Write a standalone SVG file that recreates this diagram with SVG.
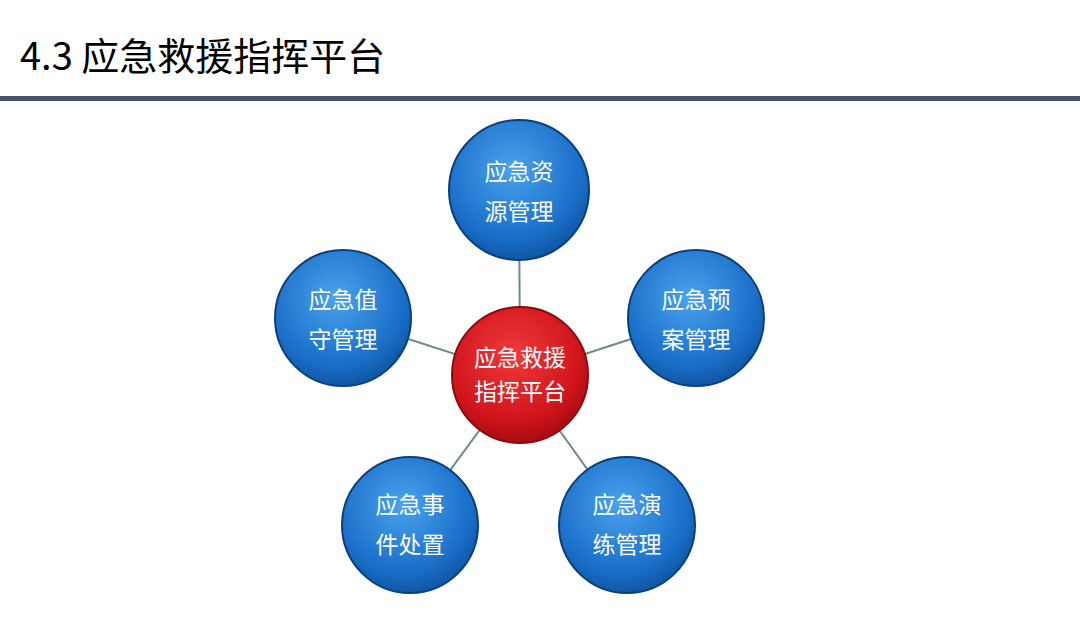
<svg xmlns="http://www.w3.org/2000/svg" width="1080" height="619" viewBox="0 0 1080 619">
<defs>
<radialGradient id="gb" cx="0.45" cy="0.35" r="0.7">
<stop offset="0" stop-color="#4aa3ec"/><stop offset="0.7" stop-color="#1a6fc9"/><stop offset="1" stop-color="#0d4f9a"/>
</radialGradient>
<radialGradient id="gr" cx="0.45" cy="0.35" r="0.7">
<stop offset="0" stop-color="#f03a3a"/><stop offset="0.7" stop-color="#d0141c"/><stop offset="1" stop-color="#9a0a10"/>
</radialGradient>
<style>
.t{font-family:"Noto Sans CJK SC",sans-serif;fill:#fff;font-size:23px;text-anchor:middle}
.c{stroke:#0a3f7a;stroke-width:2}
.cr{stroke:#8a0a0e;stroke-width:2}
</style>
</defs>
<rect width="1080" height="619" fill="#fff"/>
<text x="20" y="70" font-family="Noto Sans CJK SC,sans-serif" font-size="38" fill="#000">4.3 应急救援指挥平台</text>
<rect x="0" y="96" width="1080" height="5" fill="#44546a"/>
<g id="connectors" stroke="#6f8a80" stroke-width="2">
<line x1="520" y1="375" x2="519" y2="190"/>
<line x1="520" y1="375" x2="343" y2="318"/>
<line x1="520" y1="375" x2="696" y2="318"/>
<line x1="520" y1="375" x2="410" y2="525"/>
<line x1="520" y1="375" x2="627" y2="525"/>
</g>
<g id="n1"><circle class="c" cx="519" cy="190" r="70" fill="url(#gb)"/><text class="t" x="519" y="180">应急资</text><text class="t" x="519" y="220">源管理</text></g>
<g id="n2"><circle class="c" cx="343" cy="318" r="68" fill="url(#gb)"/><text class="t" x="343" y="308">应急值</text><text class="t" x="343" y="348">守管理</text></g>
<g id="n3"><circle class="c" cx="696" cy="318" r="68" fill="url(#gb)"/><text class="t" x="696" y="308">应急预</text><text class="t" x="696" y="348">案管理</text></g>
<g id="n4"><circle class="c" cx="410" cy="525" r="68" fill="url(#gb)"/><text class="t" x="410" y="513">应急事</text><text class="t" x="410" y="553">件处置</text></g>
<g id="n5"><circle class="c" cx="627" cy="525" r="68" fill="url(#gb)"/><text class="t" x="627" y="513">应急演</text><text class="t" x="627" y="553">练管理</text></g>
<g id="center"><circle class="cr" cx="520" cy="375" r="68" fill="url(#gr)"/><text class="t" x="520" y="366" font-size="21">应急救援</text><text class="t" x="520" y="400" font-size="21">指挥平台</text></g>
</svg>
